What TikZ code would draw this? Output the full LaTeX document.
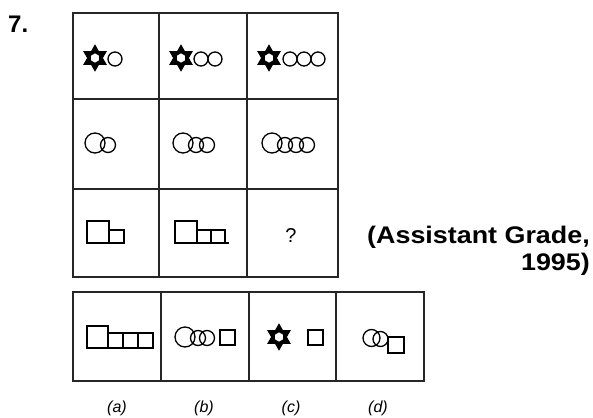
\documentclass[tikz,border=0pt]{standalone}
\usepackage{fontspec}
\setmainfont{Liberation Sans}
\begin{document}
\begin{tikzpicture}[x=1pt,y=-1pt,
  grid/.style={line width=1.8pt,draw=black!85},
  fig/.style={line width=1.3pt,draw=black},
  hexstar/.pic={\draw[line width=1.2pt,line join=miter,fill=black]
     (90:12.5) -- (60:7.2) -- (30:12.5) -- (0:7.2) -- (-30:12.5) -- (-60:7.2) --
     (-90:12.5) -- (-120:7.2) -- (-150:12.5) -- (180:7.2) -- (150:12.5) -- (120:7.2) -- cycle;
     \fill[white] (30:4.6) -- (90:4.6) -- (150:4.6) -- (210:4.6) -- (270:4.6) -- (330:4.6) -- cycle;},
  lbl/.style={font=\itshape\fontsize{16}{16}\selectfont,anchor=base},
  big/.style={font=\bfseries\fontsize{24}{24}\selectfont}]
\useasboundingbox (0,0) rectangle (593,417);
% title number
\node[big,anchor=base west,inner sep=0] (num) at (8,33) {7.};
% question grid
\draw[grid] (73,13) rectangle (338,277);
\draw[grid] (159,13) -- (159,277) (247,13) -- (247,277)
            (73,99) -- (338,99) (73,189) -- (338,189);
% row 1
\pic at (95,58) {hexstar};
\draw[fig] (115,59) circle (7);
\pic at (181,58) {hexstar};
\draw[fig] (201,59) circle (7) (215,59) circle (7);
\pic at (269,58) {hexstar};
\draw[fig] (290,59) circle (7) (304,59) circle (7) (318,59) circle (7);
% row 2
\draw[fig] (95,143) circle (10) (108,145) circle (7.5);
\draw[fig] (183,143) circle (10) (196,145) circle (7.5) (207,145) circle (7.5);
\draw[fig] (272,143) circle (10) (285,145) circle (7.5) (296,145) circle (7.5) (307,145) circle (7.5);
% row 3
\draw[fig] (87,221) rectangle (109,243) (109,230) rectangle (124,243);
\draw[fig] (175,221) rectangle (197,243) (197,230) rectangle (211,243)
           (211,230) rectangle (225,243) (225,243) -- (229,243);
\node[font=\fontsize{20}{20}\selectfont] (q) at (291,236) {?};
% source
\node[big,anchor=base east,inner sep=0] (src1) at (590,243) {\scalebox{1.12}[1]{(Assistant Grade,}};
\node[big,anchor=base east,inner sep=0] (src2) at (590,270) {\scalebox{1.12}[1]{1995)}};
% answer row
\draw[grid] (73,292) rectangle (424,381);
\draw[grid] (161,292) -- (161,381) (249,292) -- (249,381) (336,292) -- (336,381);
% (a)
\draw[fig] (87,326) rectangle (108,348) (108,333) rectangle (123,348)
           (123,333) rectangle (138,348) (138,333) rectangle (153,348);
% (b)
\draw[fig] (185,337) circle (10) (198,338) circle (7.5) (207,338) circle (7.5);
\draw[fig] (220,330) rectangle (235,345);
% (c)
\pic at (279,337) {hexstar};
\draw[fig] (308,330) rectangle (323,345);
% (d)
\draw[fig] (371.5,338) circle (8.5) (380.5,339) circle (7.5);
\draw[fig] (388,337) rectangle (404,353);
% labels
\node[lbl] (la) at (117,412) {(a)};
\node[lbl] (lb) at (204,412) {(b)};
\node[lbl] (lc) at (291,412) {(c)};
\node[lbl] (ld) at (378,412) {(d)};
\end{tikzpicture}
\end{document}
